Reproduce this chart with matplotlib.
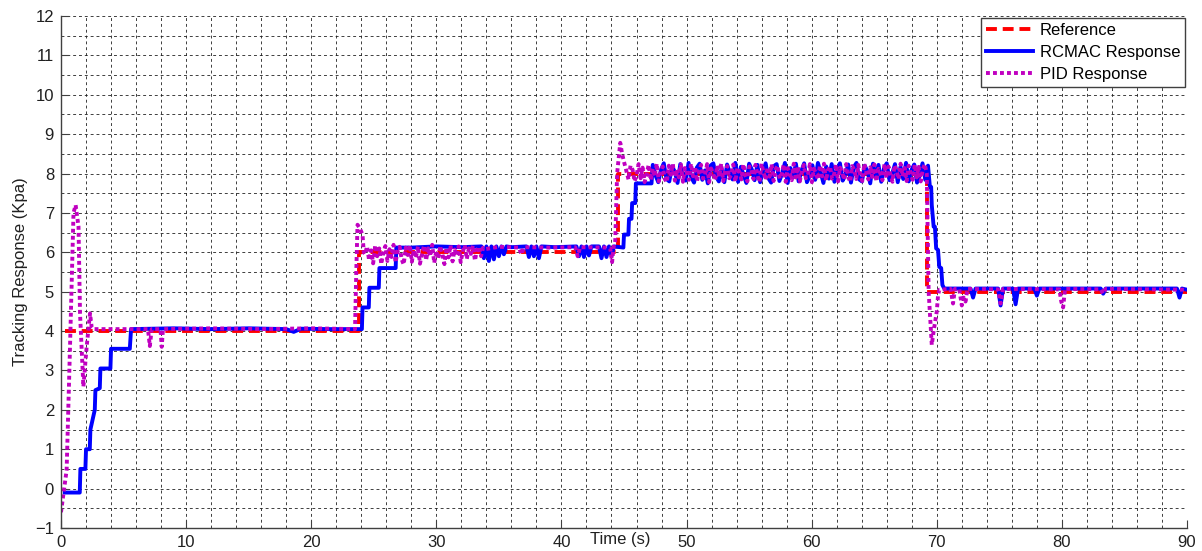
import numpy as np
import matplotlib
matplotlib.use('Agg')
import matplotlib.pyplot as plt
from matplotlib.ticker import MultipleLocator

# ---------------- data ----------------
ref_t = [0.3, 23.8, 23.8, 44.5, 44.5, 69.2, 69.2, 90.0]
ref_v = [4.0, 4.0, 6.0, 6.0, 8.0, 8.0, 5.0, 5.0]

# RCMAC response: breakpoint segments
rc_t0 = [0.3, 1.5, 1.55, 1.95, 2.0, 2.3, 2.35, 2.7, 2.75, 3.1, 3.15, 3.95, 4.0, 5.5, 5.6,
         9.0, 12.0, 15.0, 18.0, 18.6, 19.2, 21.5, 24.05]
rc_v0 = [-0.1, -0.1, 0.5, 0.5, 1.0, 1.0, 1.5, 2.0, 2.5, 2.55, 3.05, 3.05, 3.55, 3.55, 4.05,
         4.07, 4.05, 4.07, 4.05, 3.98, 4.06, 4.05, 4.05]
rc_t1 = [24.1, 24.6, 24.65, 25.4, 25.45, 26.75, 26.8, 28.0, 30.0, 32.0, 33.6, 33.8, 34.0, 34.2,
         34.4, 34.6, 34.8, 35.0, 35.2, 35.4, 35.6, 36.0, 37.2, 37.4, 37.6, 37.8, 38.0, 38.2,
         38.4, 39.5, 41.2, 41.4, 41.6, 41.8, 42.0, 42.2, 42.4, 43.0, 43.2, 43.4, 43.6, 43.8,
         44.0, 44.2, 44.9]
rc_v1 = [4.6, 4.6, 5.1, 5.1, 5.6, 5.6, 6.12, 6.12, 6.15, 6.13, 6.15, 5.85, 6.15, 5.78,
         6.15, 5.82, 6.15, 5.9, 6.15, 5.95, 6.15, 6.13, 6.15, 5.88, 6.15, 5.9, 6.15, 5.85,
         6.15, 6.13, 6.15, 5.9, 6.15, 5.88, 6.15, 5.92, 6.15, 6.15, 5.85, 6.15, 5.88, 6.15,
         5.9, 6.15, 6.12]
rc_t2 = [44.95, 45.0, 45.35, 45.4, 45.6, 45.65, 45.9, 45.95, 47.2]
rc_v2 = [6.12, 6.45, 6.45, 6.85, 6.85, 7.25, 7.25, 7.75, 7.75]
rc_band_start, rc_band_end = 47.3, 69.3
rc_band_v = [
    8.22, 7.95, 7.78, 8.1, 8.26, 7.86, 7.8, 8.18, 8.05, 7.76,
    8.24, 8.0, 7.82, 8.27, 7.9, 7.77, 8.15, 8.25, 7.84, 8.08,
    7.75, 8.2, 8.26, 7.92, 7.8, 8.12, 7.78, 8.23, 8.02, 7.85,
    8.27, 7.79, 8.17, 7.96, 7.76, 8.25, 8.1, 7.83, 8.22, 7.78,
    8.05, 8.26, 7.88, 7.77, 8.19, 8.24, 7.81, 8.0, 8.27, 7.76,
    8.14, 7.9, 8.25, 7.8, 8.07, 8.26, 7.78, 7.94, 8.21, 7.84,
    8.27, 8.03, 7.76, 8.18, 7.87, 8.24, 7.79, 8.12, 8.26, 7.82,
    7.98, 8.23, 7.77, 8.16, 8.27, 7.85, 7.8, 8.2, 8.06, 7.75,
    8.25, 7.91, 8.22, 7.79, 8.13, 8.26, 7.83, 8.0, 8.24, 7.78,
    8.17, 7.86, 8.27, 7.8, 8.09, 8.23, 7.77, 7.95, 8.26, 7.84,
    8.2]
rc_t3 = [69.45, 69.55, 69.6, 69.75, 69.85, 69.95, 70.1, 70.2, 70.35, 70.45, 70.6,
         72.7, 72.9, 73.1, 74.9, 75.1, 75.3,
         76.1, 76.3, 76.5, 77.8, 78.0, 78.2, 83.1, 83.3, 83.5, 89.2, 89.4, 89.6, 90.0]
rc_v3 = [7.66, 7.66, 7.2, 6.65, 6.65, 6.1, 6.06, 5.63, 5.6, 5.17, 5.08,
         5.08, 4.85, 5.08, 5.08, 4.65, 5.08,
         5.08, 4.68, 5.08, 5.08, 4.9, 5.08, 5.08, 4.95, 5.08, 5.08, 4.85, 5.08, 5.05]

# PID response: breakpoint segments
pid_t0 = [0.0, 0.45, 0.72, 1.0, 1.17, 1.4, 1.52, 1.79, 2.05, 2.32, 2.45, 2.6,
          6.95, 7.1, 7.25, 7.95, 8.05, 8.15, 12.0, 16.0, 20.0, 23.5, 23.6, 23.7,
          23.9, 24.1, 24.2]
pid_v0 = [-0.6, 0.47, 3.6, 7.0, 7.2, 6.65, 4.45, 2.59, 3.6, 4.45, 4.1, 4.05,
          4.05, 3.62, 4.05, 4.05, 3.6, 4.05, 4.07, 4.05, 4.07, 4.05, 5.5, 6.7,
          6.6, 6.45, 6.0]
pid_band1_start, pid_band1_end = 24.3, 33.9
pid_band1_v = [
    5.95, 6.15, 5.8, 6.05, 5.72, 6.18, 5.9, 6.1, 5.7, 6.0,
    6.16, 5.78, 6.08, 5.88, 6.19, 5.74, 6.02, 6.14, 5.82, 5.69,
    6.12, 5.93, 6.18, 5.76, 6.06, 5.86, 6.15, 5.71, 5.98, 6.17,
    5.8, 6.1, 5.9, 6.19, 5.73, 6.04, 5.84, 6.16, 5.95, 5.7,
    6.12, 5.87, 6.18, 5.77, 6.07, 5.92, 6.15, 5.75, 6.02, 6.18,
    5.83, 6.1, 5.96, 6.17, 5.79, 6.06, 6.14, 5.9, 6.12, 6.08]
pid_t1 = [35.0, 36.6, 36.8, 37.0, 39.0, 41.1, 41.3, 41.5, 43.5, 43.9, 44.05, 44.15,
          44.3, 44.45, 44.7, 44.85, 45.0]
pid_v1 = [6.14, 6.12, 5.95, 6.13, 6.12, 6.13, 5.9, 6.13, 6.12, 6.1, 5.75, 6.1,
          6.3, 8.0, 8.78, 8.5, 8.3]
pid_band2_start, pid_band2_end = 45.2, 69.2
pid_band2_v = [
    8.05, 7.85, 8.2, 8.1, 7.8, 7.95, 8.24, 7.88, 8.15, 7.78,
    8.0, 8.22, 7.83, 8.12, 7.92, 8.25, 7.8, 8.06, 8.18, 7.86,
    7.78, 8.2, 7.97, 8.24, 7.82, 8.1, 7.9, 8.23, 7.79, 8.14,
    8.02, 7.84, 8.25, 7.93, 8.17, 7.8, 8.08, 8.22, 7.87, 7.97,
    8.24, 7.78, 8.13, 8.0, 7.83, 8.2, 7.91, 8.25, 7.81, 8.09,
    8.19, 7.88, 7.98, 8.23, 7.79, 8.15, 8.04, 7.85, 8.24, 7.94,
    7.8, 8.18, 8.1, 7.86, 8.22, 7.96, 7.78, 8.25, 8.03, 7.84,
    8.16, 7.92, 8.24, 7.81, 8.11, 8.2, 7.87, 7.99, 8.23, 7.79,
    8.14, 8.02, 7.83, 8.25, 7.9, 8.17, 7.8, 8.07, 8.22, 7.88,
    7.96, 8.24, 7.78, 8.12, 8.01, 7.85, 8.21, 7.93, 8.25, 7.82,
    8.09, 8.18, 7.87, 7.98, 8.23, 7.8, 8.15, 8.04, 7.84, 8.24,
    7.92, 7.79, 8.19, 8.1, 7.86, 8.22, 7.95, 7.81, 8.25, 8.03,
    7.85, 8.16, 7.91, 8.23, 7.8, 8.12, 8.0, 7.83, 8.24, 7.89,
    8.18, 7.97, 7.79, 8.21, 8.08, 7.86, 8.25, 7.93, 8.14, 7.81,
    8.2, 8.02, 7.84, 8.23, 7.9, 8.17, 7.8, 8.1, 8.24, 8.0]
pid_t2 = [69.35, 69.6, 69.75, 70.0, 70.1, 70.2, 71.1, 71.3, 71.45, 71.8, 72.0, 72.15,
          72.3, 72.45, 74.9, 75.1, 75.3, 79.8, 79.95, 80.1, 80.25, 83.1, 83.3, 83.5, 90.0]
pid_v2 = [5.0, 3.65, 4.0, 4.5, 4.9, 5.05, 5.07, 4.7, 5.07, 5.06, 4.65, 4.85,
          4.75, 5.07, 5.06, 4.7, 5.07, 5.06, 4.75, 4.6, 5.07, 5.06, 4.95, 5.07, 5.05]

labels = ['Reference', 'RCMAC Response', 'PID Response']
x_label = 'Time (s)'
y_label = 'Tracking Response (Kpa)'

# ---------------- assemble ----------------
rc_t = np.concatenate([rc_t0, rc_t1, rc_t2,
                       np.linspace(rc_band_start, rc_band_end, len(rc_band_v)), rc_t3])
rc_v = np.concatenate([rc_v0, rc_v1, rc_v2, rc_band_v, rc_v3])
pid_t = np.concatenate([pid_t0,
                        np.linspace(pid_band1_start, pid_band1_end, len(pid_band1_v)),
                        pid_t1,
                        np.linspace(pid_band2_start, pid_band2_end, len(pid_band2_v)),
                        pid_t2])
pid_v = np.concatenate([pid_v0, pid_band1_v, pid_v1, pid_band2_v, pid_v2])

# ---------------- plot ----------------
plt.rcParams['font.family'] = ['Liberation Sans', 'DejaVu Sans']
plt.rcParams['font.size'] = 12

fig = plt.figure(figsize=(12.02, 5.51), dpi=100)
ax = fig.add_axes([61 / 1202, 1 - 528 / 551, 1126 / 1202, 512 / 551])

lw = 2.8
ax.plot(ref_t, ref_v, color='#FF0000', lw=lw, linestyle=(0, (2.8, 1.5)), label=labels[0])
ax.plot(rc_t, rc_v, color='#0000FF', lw=lw, label=labels[1])
ax.plot(pid_t, pid_v, color='#C000C0', lw=lw, linestyle=(0, (1.0, 0.8)), label=labels[2])

ax.set_xlim(0, 90)
ax.set_ylim(-1, 12)
ax.xaxis.set_major_locator(MultipleLocator(10))
ax.xaxis.set_minor_locator(MultipleLocator(2))
ax.yaxis.set_major_locator(MultipleLocator(1))
ax.yaxis.set_minor_locator(MultipleLocator(0.5))

ax.grid(True, which='both', linestyle=(0, (3.5, 3.5)), color='#202020', linewidth=0.6)
ax.set_axisbelow(True)

for s in ['top', 'right']:
    ax.spines[s].set_visible(False)
for s in ['left', 'bottom']:
    ax.spines[s].set_color('#404040')
    ax.spines[s].set_linewidth(1.0)

ax.tick_params(which='major', direction='in', length=6, width=0.8, color='#404040',
               labelsize=12, labelcolor='#202020', pad=5)
ax.tick_params(which='minor', length=0)

ax.set_xlabel(x_label, fontsize=12, color='#202020', va='center')
ax.xaxis.set_label_coords(0.4964, -0.0215)
ax.set_ylabel(y_label, fontsize=12, color='#202020', va='center')
ax.yaxis.set_label_coords(-0.0364, 0.5)

leg = ax.legend(loc='upper right', fontsize=12, handlelength=2.8, handletextpad=0.4,
                labelspacing=0.42, borderpad=0.3, borderaxespad=0.1, fancybox=False,
                framealpha=1.0, edgecolor='#404040')
leg.get_frame().set_linewidth(1.0)

fig.savefig('out.png', dpi=100)
